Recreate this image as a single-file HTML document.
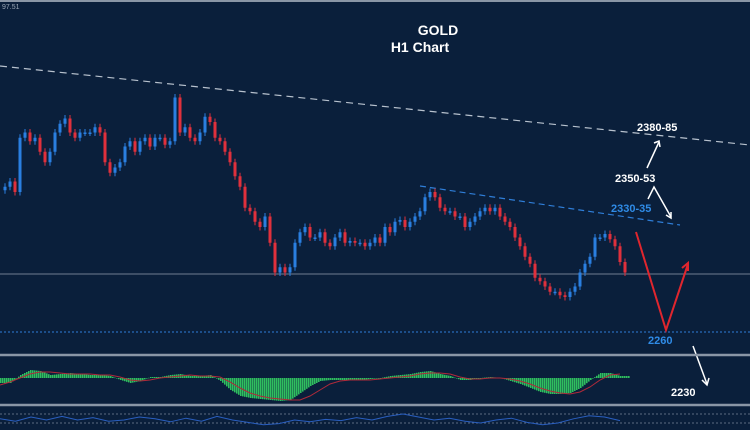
<!DOCTYPE html>
<html><head><meta charset="utf-8"><style>
html,body{margin:0;padding:0;background:#0a1f3b;}
svg{display:block;font-family:"Liberation Sans",sans-serif;}
</style></head><body>
<svg id="c" width="750" height="430" viewBox="0 0 750 430">
<rect width="750" height="430" fill="#0a1f3b"/>
<line x1="0" y1="1" x2="750" y2="1" stroke="#8a96a6" stroke-width="2"/>
<text x="2" y="9" fill="#9aa6b6" font-size="7">97.51</text>
<text x="438" y="35" fill="#fff" font-size="14" font-weight="bold" text-anchor="middle">GOLD</text>
<text x="420" y="52" fill="#fff" font-size="14" font-weight="bold" text-anchor="middle">H1 Chart</text>
<line x1="0" y1="66" x2="750" y2="145" stroke="#b8c2ce" stroke-width="1.2" stroke-dasharray="7,5"/>
<line x1="420" y1="186" x2="680" y2="225" stroke="#2f7ed8" stroke-width="1.2" stroke-dasharray="6,4"/>
<line x1="0" y1="274" x2="750" y2="274" stroke="#5c6b80" stroke-width="1.2"/>
<line x1="0" y1="332" x2="750" y2="332" stroke="#2f7ed8" stroke-width="1" stroke-dasharray="2,2"/>
<g id="candles"></g>
<g>
<text x="637" y="131" fill="#fff" font-size="11" font-weight="bold">2380-85</text>
<text x="615" y="182" fill="#fff" font-size="11" font-weight="bold">2350-53</text>
<text x="611" y="212" fill="#2f8be6" font-size="11" font-weight="bold">2330-35</text>
<text x="648" y="344" fill="#2f8be6" font-size="11" font-weight="bold">2260</text>
<text x="671" y="396" fill="#fff" font-size="11" font-weight="bold">2230</text>
<polyline points="647,168 659,142" fill="none" stroke="#fff" stroke-width="1.5"/>
<polyline points="654,143 659,141 660,147" fill="none" stroke="#fff" stroke-width="1.5"/>
<polyline points="648,199 654,187 671,217" fill="none" stroke="#fff" stroke-width="1.5"/>
<polyline points="666,215 671,218 671,212" fill="none" stroke="#fff" stroke-width="1.5"/>
<polyline points="636,232 666,330 688,264" fill="none" stroke="#e0262e" stroke-width="2"/>
<polyline points="682,268 688,263 688,271" fill="none" stroke="#e0262e" stroke-width="2"/>
<polyline points="693,346 707,384" fill="none" stroke="#fff" stroke-width="1.5"/>
<polyline points="702,380 707,385 709,378" fill="none" stroke="#fff" stroke-width="1.5"/>
</g>
<line x1="0" y1="355" x2="750" y2="355" stroke="#8a96a6" stroke-width="2.5"/>
<line x1="0" y1="405" x2="750" y2="405" stroke="#8a96a6" stroke-width="2.5"/>
<g id="macd"></g>
<line x1="0" y1="414" x2="750" y2="414" stroke="#5c6b80" stroke-width="1" stroke-dasharray="2,2"/>
<line x1="0" y1="423" x2="750" y2="423" stroke="#5c6b80" stroke-width="1" stroke-dasharray="2,2"/>
<g id="rsi"></g>
</svg>
<script>
// closes in price units, one per candle (5px step)
const closes = [2343,2346,2340,2371,2374,2369,2371,2363,2357,2363,2374,2379,2382,2374,2371,2374,2374,2374,2377,2374,2357,2351,2354,2357,2366,2369,2363,2369,2371,2366,2371,2371,2367,2369,2394,2374,2377,2371,2369,2374,2383,2380,2371,2369,2363,2357,2349,2343,2331,2329,2323,2320,2326,2311,2294,2297,2294,2297,2311,2317,2320,2314,2314,2317,2311,2309,2314,2317,2311,2312,2311,2311,2309,2311,2314,2311,2320,2317,2323,2324,2320,2323,2326,2329,2337,2340,2337,2331,2329,2329,2326,2326,2320,2323,2326,2329,2331,2329,2331,2326,2323,2320,2314,2309,2303,2299,2291,2289,2286,2283,2283,2281,2280,2283,2286,2294,2299,2303,2314,2314,2316,2313,2309,2300,2294];
const macdHist = [-5,-5,3,8,7,3,4,5,4,3,3,2,-2,-5,-3,1,1,3,4,2,2,3,-3,-12,-18,-20,-21,-22,-23,-22,-15,-8,-3,-2,-2,-2,-2,-1,0,2,3,4,6,7,4,2,-2,-2,0,1,0,-3,-6,-10,-14,-16,-16,-15,-10,-2,5,5,2];
const macdSignal = [-7,-4,0,4,6,6,5,4,4,4,3,3,1,-2,-3,-2,0,1,2,3,2,2,1,-4,-10,-15,-18,-20,-21,-22,-22,-18,-12,-6,-3,-2,-2,-2,-1,0,1,2,4,5,5,4,1,-1,-1,0,0,-1,-3,-6,-10,-13,-15,-16,-14,-9,-2,3,4];
const rsi = [52,48,55,50,56,50,54,48,50,55,52,47,53,48,56,50,46,42,44,50,47,51,49,54,50,56,60,55,50,53,48,45,50,53,46,42,45,52,57,55,49];
const ns='http://www.w3.org/2000/svg';
const yP = p => 332 - (p - 2260) * 1.75;
const xC = i => 5 + i * 5;
const g = document.getElementById('candles');
for (let i = 0; i < closes.length; i++) {
  const c = closes[i], o = i ? closes[i-1] : c - 2;
  const up = c >= o, col = up ? '#2a7fe0' : '#e0303c';
  const hi = Math.max(o,c) + 2, lo = Math.min(o,c) - 2;
  const w = document.createElementNS(ns,'line');
  
  
  w.setAttribute('x1', xC(i)); w.setAttribute('x2', xC(i));
  w.setAttribute('y1', yP(hi)); w.setAttribute('y2', yP(lo));
  w.setAttribute('stroke', col); w.setAttribute('stroke-width', '1');
  g.appendChild(w);
  const b = document.createElementNS(ns,'rect');
  
  
  const t = yP(Math.max(o,c)), h = Math.max(1.5, Math.abs(yP(o) - yP(c)));
  b.setAttribute('x', xC(i) - 1.5); b.setAttribute('y', t);
  b.setAttribute('width', 3); b.setAttribute('height', h);
  b.setAttribute('fill', col);
  g.appendChild(b);
}
const m = document.getElementById('macd');
const base = 378, xM = i => i * 10;
for (let i = 0; i < macdHist.length; i++) {
  for (let k = 0; k < 10; k += 2) {
    const v = macdHist[i] + (i + 1 < macdHist.length ? (macdHist[i+1] - macdHist[i]) * k / 10 : 0);
    const r = document.createElementNS(ns,'rect');
    
    
    r.setAttribute('x', xM(i) + k); r.setAttribute('width', 1.6);
    r.setAttribute('y', v >= 0 ? base - v : base);
    r.setAttribute('height', Math.max(0.5, Math.abs(v)));
    r.setAttribute('fill', '#2fbf5f');
    m.appendChild(r);
  }
}
const sl = document.createElementNS(ns,'polyline');


sl.setAttribute('points', macdSignal.map((v,i) => xM(i) + ',' + (base - v)).join(' '));
sl.setAttribute('fill', 'none'); sl.setAttribute('stroke', '#b02a3a'); sl.setAttribute('stroke-width', '1');
m.appendChild(sl);
const rl = document.createElementNS(ns,'polyline');


rl.setAttribute('points', rsi.map((v,i) => (i * 15.5) + ',' + (420 - (v - 50) * 0.6)).join(' '));
rl.setAttribute('fill', 'none'); rl.setAttribute('stroke', '#2a5fc0'); rl.setAttribute('stroke-width', '1');
document.getElementById('rsi').appendChild(rl);
</script>
</body></html>
